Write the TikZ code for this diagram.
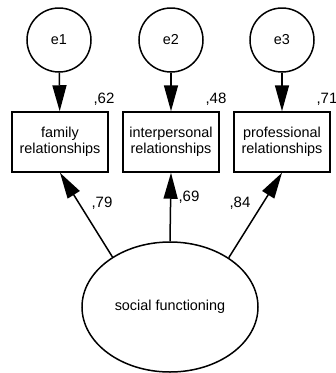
\documentclass[tikz,border=0pt]{standalone}
\usepackage{fontspec}
\setmainfont{Liberation Sans}
\usetikzlibrary{arrows.meta,shapes.geometric}

\tikzset{
  errvar/.style={draw, circle, line width=1.5pt, minimum size=64pt, inner sep=0pt, font=\fontsize{14.4}{16.5}\selectfont},
  obsvar/.style={draw, rectangle, line width=1.5pt, minimum width=96pt, minimum height=60pt, inner sep=0pt, align=center, font=\fontsize{14.4}{16.5}\selectfont},
  latvar/.style={draw, ellipse, line width=1.5pt, minimum width=176pt, minimum height=130pt, inner sep=0pt, font=\fontsize{14.4}{16.5}\selectfont},
  coef/.style={inner sep=0pt, font=\fontsize{15}{16}\selectfont},
  path/.style={line width=1.5pt, -{Triangle[length=26pt,width=14pt]}}
}

\begin{document}
\begin{tikzpicture}[x=1pt,y=1pt,yscale=-1,xscale=1]
\useasboundingbox (0,0) rectangle (336,373);

%Shape: Circle [id:e1]
\node [errvar] (e1) at (59,40) {e1};
%Shape: Circle [id:e2]
\node [errvar] (e2) at (171,40) {e2};
%Shape: Circle [id:e3]
\node [errvar] (e3) at (282,40) {e3};

%Shape: Rectangle [id:fam]
\node [obsvar] (fam) at (60,142) {family\\relationships};
%Shape: Rectangle [id:inter]
\node [obsvar] (inter) at (171,142) {interpersonal\\relationships};
%Shape: Rectangle [id:prof]
\node [obsvar] (prof) at (282,142) {professional\\relationships};

%Shape: Ellipse [id:social]
\node [latvar] (social) at (170,307) {social functioning};

%Straight Lines
\draw [path] (e1) -- (fam);
\draw [path] (e2) -- (inter);
\draw [path] (e3) -- (prof);
\draw [path] (social.139.8) -- (fam.south);
\draw [path] (social.90) -- (inter.south);
\draw [path] (social.40.2) -- (prof.south);

% Text Node
\node [coef] (r1) at (104,99) {,62};
% Text Node
\node [coef] (r2) at (216,99) {,48};
% Text Node
\node [coef] (r3) at (327,99) {,71};
% Text Node
\node [coef] (l1) at (102,203) {,79};
% Text Node
\node [coef] (l2) at (189,197) {,69};
% Text Node
\node [coef] (l3) at (240,203) {,84};

\end{tikzpicture}
\end{document}
